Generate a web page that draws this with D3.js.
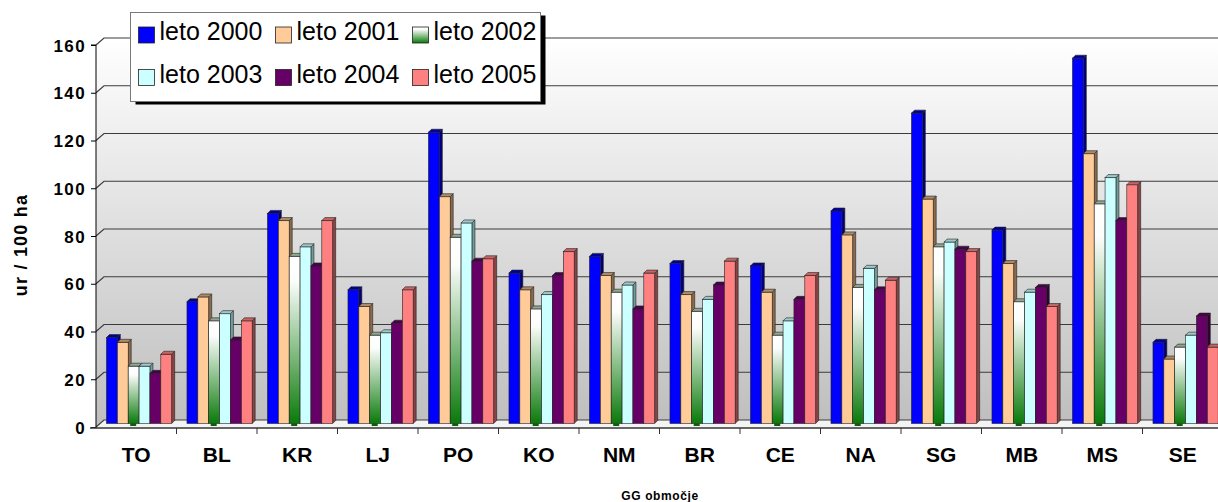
<!DOCTYPE html>
<html>
<head>
<meta charset="utf-8">
<script src="https://d3js.org/d3.v7.min.js"></script>
<style>
  html, body { margin: 0; padding: 0; background: #fff; }
  svg { display: block; font-family: Arial, "Liberation Sans", sans-serif; }
</style>
</head>
<body>
<div id="theChart"></div>
<script>
const categories = ["TO", "BL", "KR", "LJ", "PO", "KO", "NM", "BR", "CE", "NA", "SG", "MB", "MS", "SE"]
const seriesNames = ["leto 2000", "leto 2001", "leto 2002", "leto 2003", "leto 2004", "leto 2005"]

const leto2000 = [36, 51, 88, 56, 122, 63, 70, 67, 66, 89, 130, 81, 153, 34]
const leto2001 = [34, 53, 85, 49, 95, 56, 62, 54, 55, 79, 94, 67, 113, 27]
const leto2002 = [24, 43, 70, 37, 78, 48, 55, 47, 37, 57, 74, 51, 92, 32]
const leto2003 = [24, 46, 74, 38, 84, 54, 58, 52, 43, 65, 76, 55, 103, 37]
const leto2004 = [21, 35, 66, 42, 68, 62, 48, 58, 52, 56, 73, 57, 85, 45]
const leto2005 = [29, 43, 85, 56, 69, 72, 63, 68, 62, 60, 72, 49, 100, 32]

const yTicks = [0, 20, 40, 60, 80, 100, 120, 140, 160]
const yTitle = "ur / 100 ha"
const xTitle = "GG območje"

const allSeries = [leto2000, leto2001, leto2002, leto2003, leto2004, leto2005]

const w = 1218
const h = 502

// colours for front, side and top faces of each series
const frontCol = ["#0000ff", "#ffcc99", "url(#gGreen)", "#ccffff", "#660066", "#ff8080"]
const sideCol = ["#00007a", "#8a6a4c", "#627d62", "#709c9c", "#330033", "#8a4444"]
const topCol = ["#00009a", "#b08a66", "#8fa88f", "#9cc9c9", "#4a004a", "#c86464"]

// 3d depth of the back wall and of the bars
const wallDx = 8, wallDy = -7
const barDx = 3, barDy = -3
const midDx = 0, midDy = -3.5

const svg = d3.select("#theChart")
	.append("svg")
	.attr("width", w)
	.attr("height", h)

const defs = svg.append("defs")

const wallGrad = defs.append("linearGradient")
	.attr("id", "gWall")
	.attr("gradientUnits", "userSpaceOnUse")
	.attr("x1", 0).attr("x2", 0).attr("y1", 38).attr("y2", 420)
wallGrad.append("stop").attr("offset", 0).attr("stop-color", "#ffffff")
wallGrad.append("stop").attr("offset", 1).attr("stop-color", "#bfbfbf")

const greenGrad = defs.append("linearGradient")
	.attr("id", "gGreen")
	.attr("x1", 0).attr("x2", 0).attr("y1", 0).attr("y2", 1)
greenGrad.append("stop").attr("offset", 0).attr("stop-color", "#ffffff")
greenGrad.append("stop").attr("offset", 0.15).attr("stop-color", "#fbfdfb")
greenGrad.append("stop").attr("offset", 1).attr("stop-color", "#0a7a0a")

const x0 = d3.scaleBand().domain(categories).range([96, 1223]).padding(0)
const x1 = d3.scaleBand().domain(d3.range(seriesNames.length))
	.range([x0.bandwidth() * 0.13, x0.bandwidth() * 0.94])
const y = d3.scaleLinear().domain([0, 160]).range([427, 45])

const left = 96
const right = 1223 + wallDx

// back wall
svg.append("rect")
	.attr("x", left + wallDx)
	.attr("y", y(160) + wallDy)
	.attr("width", right - left - wallDx)
	.attr("height", y(0) - y(160))
	.attr("fill", "url(#gWall)")

// side wall
svg.append("path")
	.attr("d", `M${left},${y(160)}L${left + wallDx},${y(160) + wallDy}L${left + wallDx},${y(0) + wallDy}L${left},${y(0)}Z`)
	.attr("fill", "url(#gWall)")

// floor
svg.append("path")
	.attr("d", `M${left},${y(0)}L${left + wallDx},${y(0) + wallDy}L${right},${y(0) + wallDy}L${right},${y(0)}Z`)
	.attr("fill", "#f3f3f3")

// gridlines
svg.append("g")
	.selectAll("path")
	.data(yTicks)
	.enter()
	.append("path")
	.attr("d", d => `M${left},${y(d)}L${left + wallDx},${y(d) + wallDy}L${right},${y(d) + wallDy}`)
	.attr("fill", "none")
	.attr("stroke", "#3c3c3c")
	.attr("stroke-width", 1.2)

// bars
const groups = svg.append("g")
	.selectAll("g")
	.data(categories)
	.enter()
	.append("g")
	.attr("transform", d => `translate(${x0(d)},0)`)

const bw = x1.bandwidth()
const base = y(0) + midDy

groups.each(function (cat, ci) {
	const g = d3.select(this)
	seriesNames.forEach((s, si) => {
		const v = allSeries[si][ci]
		const bx = x1(si) + midDx
		const top = y(v) + midDy
		// little dark mark under the green bar
		if (si === 2) {
			g.append("rect")
				.attr("x", bx + 2)
				.attr("y", base)
				.attr("width", 6)
				.attr("height", 2.5)
				.attr("fill", "#0b5e0b")
		}
		g.append("path")
			.attr("d", `M${bx + bw},${top}L${bx + bw + barDx},${top + barDy}L${bx + bw + barDx},${base + barDy}L${bx + bw},${base}Z`)
			.attr("fill", sideCol[si])
			.attr("stroke", "#222")
			.attr("stroke-width", 0.6)
		g.append("rect")
			.attr("x", bx)
			.attr("y", top)
			.attr("width", bw)
			.attr("height", base - top)
			.attr("fill", frontCol[si])
			.attr("stroke", "#222")
			.attr("stroke-width", 0.6)
		g.append("path")
			.attr("d", `M${bx},${top}L${bx + barDx},${top + barDy}L${bx + bw + barDx},${top + barDy}L${bx + bw},${top}Z`)
			.attr("fill", topCol[si])
			.attr("stroke", "#222")
			.attr("stroke-width", 0.6)
	})
})

// y axis
const yAxis = d3.axisLeft(y).tickValues(yTicks).tickSize(5).tickPadding(5)
const yG = svg.append("g")
	.attr("transform", `translate(${left},0)`)
	.call(yAxis)
yG.select(".domain").attr("stroke", "#000").attr("d", `M-5,${y(160)}H0V${y(0) + 1}`)
yG.selectAll(".tick line").attr("stroke", "#000")
yG.selectAll(".tick text")
	.attr("font-size", 17)
	.attr("font-weight", "bold")
	.attr("letter-spacing", 1.4)
	.attr("fill", "#000")
	.attr("dy", "0.36em")
	.attr("font-family", "Arial, 'Liberation Sans', sans-serif")

// x axis line and category boundary ticks
svg.append("line")
	.attr("x1", left - 6).attr("x2", right)
	.attr("y1", y(0) + 1).attr("y2", y(0) + 1)
	.attr("stroke", "#333")
	.attr("stroke-width", 1.6)

svg.append("g")
	.selectAll("line")
	.data(categories.slice(1))
	.enter()
	.append("line")
	.attr("x1", d => x0(d)).attr("x2", d => x0(d))
	.attr("y1", y(0) + 1).attr("y2", y(0) + 7)
	.attr("stroke", "#333")

const xAxis = d3.axisBottom(x0).tickSize(0).tickPadding(0)
const xG = svg.append("g")
	.attr("transform", `translate(0,${y(0)})`)
	.call(xAxis)
xG.select(".domain").remove()
xG.selectAll(".tick text")
	.attr("y", 35)
	.attr("dy", 0)
	.attr("font-size", 21)
	.attr("font-weight", "bold")
	.attr("fill", "#000")
	.attr("font-family", "Arial, 'Liberation Sans', sans-serif")

// axis titles
svg.append("text")
	.attr("transform", "translate(27,245) rotate(-90)")
	.attr("text-anchor", "middle")
	.attr("font-size", 18)
	.attr("font-weight", "bold")
	.attr("letter-spacing", 1.2)
	.text(yTitle)

svg.append("text")
	.attr("x", 660)
	.attr("y", 500)
	.attr("text-anchor", "middle")
	.attr("font-size", 12)
	.attr("font-weight", "bold")
	.attr("letter-spacing", 0.6)
	.text(xTitle)

// legend
const legend = svg.append("g").attr("id", "legend")
legend.append("rect")
	.attr("x", 135.5).attr("y", 15.5)
	.attr("width", 410).attr("height", 89)
	.attr("fill", "#000")
legend.append("rect")
	.attr("x", 130.5).attr("y", 12.5)
	.attr("width", 410).attr("height", 89)
	.attr("fill", "#fff")
	.attr("stroke", "#7a7a7a")

const items = legend.selectAll("g.item")
	.data(seriesNames)
	.enter()
	.append("g")
	.attr("class", "item")
	.attr("transform", (d, i) => `translate(${138 + (i % 3) * 137},${Math.floor(i / 3) * 42.5})`)

items.append("rect")
	.attr("x", 0.5).attr("y", 27)
	.attr("width", 16).attr("height", 16)
	.attr("fill", (d, i) => frontCol[i])
	.attr("stroke", "#222")
	.attr("stroke-width", 0.8)

items.append("text")
	.attr("x", 21.5)
	.attr("y", 40)
	.attr("font-size", 25)
	.attr("fill", "#000")
	.text(d => d)
</script>
</body>
</html>
